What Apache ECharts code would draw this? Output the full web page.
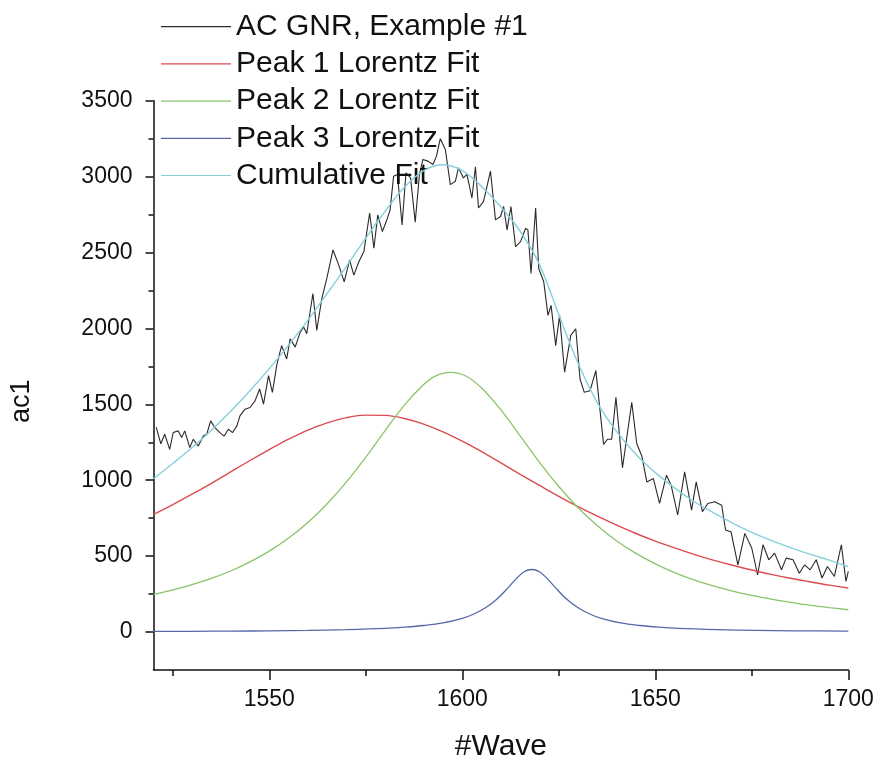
<!DOCTYPE html>
<html>
<head>
<meta charset="utf-8">
<script src="https://cdn.jsdelivr.net/npm/echarts@6/dist/echarts.min.js"></script>
<style>
html,body{margin:0;padding:0;background:#fff;}
#chart{width:877px;height:761px;}
</style>
</head>
<body>
<div id="chart"></div>
<script>
// ---- data ----
var seriesNames = ['AC GNR, Example #1', 'Peak 1 Lorentz Fit', 'Peak 2 Lorentz Fit', 'Peak 3 Lorentz Fit', 'Cumulative Fit'];

var rawWave = [1520.7,1521.9,1522.9,1524.2,1525.1,1526.4,1527.3,1528.1,1529.4,1530.3,1531.6,1532.9,1533.8,1534.8,1535.9,1537.2,1538.3,1539.4,1540.5,1541.6,1542.4,1543.7,1545.0,1546.3,1547.5,1548.5,1549.8,1550.8,1552.0,1553.2,1554.5,1555.4,1556.7,1558.0,1558.9,1559.7,1561.3,1562.3,1563.6,1564.9,1566.5,1568.0,1569.4,1570.8,1571.9,1573.2,1574.5,1576.0,1577.1,1578.1,1579.3,1580.6,1581.3,1582.2,1583.2,1584.4,1585.4,1586.6,1587.8,1588.9,1589.8,1591.1,1592.4,1593.3,1594.3,1595.6,1596.9,1598.2,1599.0,1600.3,1601.2,1602.5,1603.4,1604.2,1605.5,1607.3,1608.6,1609.9,1610.7,1611.6,1612.6,1613.8,1615.1,1616.4,1617.0,1617.8,1619.0,1619.8,1621.1,1622.2,1623.0,1624.2,1625.2,1626.5,1628.1,1629.4,1630.5,1631.6,1633.1,1634.6,1636.6,1637.6,1638.7,1639.8,1641.5,1643.9,1645.2,1646.5,1647.8,1649.5,1651.1,1652.9,1654.1,1655.8,1657.6,1659.4,1660.6,1662.2,1663.6,1665.4,1667.2,1668.2,1669.6,1671.4,1673.2,1675.0,1676.5,1677.9,1679.4,1680.9,1682.7,1683.9,1685.7,1687.3,1688.7,1690.1,1691.7,1693.2,1694.6,1696.4,1698.2,1699.4,1700.0];
var rawAc1 = [1350,1240,1303,1203,1314,1325,1281,1325,1215,1270,1225,1291,1303,1391,1347,1314,1291,1336,1314,1358,1424,1468,1479,1523,1601,1501,1689,1579,1766,1887,1799,1932,1877,1976,2009,1965,2230,1987,2197,2329,2517,2417,2307,2450,2351,2439,2506,2760,2528,2748,2638,2726,2781,3003,3014,2682,3024,2992,2700,3014,3113,3102,3080,3135,3250,3179,2947,2969,3058,2991,3014,2859,3065,2793,2837,3036,2715,2737,2803,2649,2803,2539,2572,2660,2649,2362,2793,2395,2307,2086,2152,1887,2086,1711,1954,1998,1667,1579,1590,1722,1236,1270,1270,1546,1082,1513,1240,1160,989,1011,847,1033,967,771,1055,803,989,793,847,858,836,672,661,443,650,552,377,575,476,520,410,487,476,387,443,410,476,356,432,366,575,334,400];

var fitWave = [1520,1525,1530,1535,1540,1545,1550,1555,1560,1565,1570,1575,1580,1585,1590,1595,1600,1605,1610,1615,1620,1625,1630,1635,1640,1645,1650,1655,1660,1665,1670,1675,1680,1685,1690,1695,1700];
var peak1 = [775,840,908,980,1055,1130,1202,1270,1330,1378,1412,1429,1427,1407,1370,1319,1257,1188,1114,1039,966,894,826,763,704,649,599,554,512,474,440,409,380,354,331,309,290];
var cumulative = [1010,1110,1215,1330,1455,1590,1735,1890,2055,2230,2410,2595,2772,2930,3040,3078,3040,2935,2800,2640,2420,2090,1770,1510,1320,1170,1050,950,860,787,718,657,604,556,513,474,432];

var peak2Wave = [1520,1525,1530,1535,1540,1545,1550,1555,1560,1565,1570,1575,1580,1585,1590,1593,1597,1601,1605,1610,1615,1620,1625,1630,1635,1640,1645,1650,1655,1660,1665,1670,1675,1680,1685,1690,1695,1700];
var peak2 = [247,277,312,353,402,462,533,619,722,845,989,1152,1327,1495,1630,1686,1710,1685,1607,1463,1292,1118,959,819,700,600,518,449,392,344,304,270,241,217,196,177,161,147];

var peak3Wave = [1520,1530,1540,1550,1560,1570,1580,1585,1590,1595,1600,1603,1606,1609,1612,1614,1616,1618,1620,1622,1624,1627,1630,1633,1636,1641,1646,1651,1656,1666,1676,1686,1700];
var peak3 = [4,5,6,8,11,16,24,32,43,60,90,119,160,218,296,352,397,412,397,352,296,218,160,119,90,60,43,32,24,16,11,8,6];

var xLabelValues = [1550, 1600, 1650, 1700];
var xMinorValues = [1525, 1575, 1625, 1675];
var yLabelValues = [0, 500, 1000, 1500, 2000, 2500, 3000, 3500];
var yMinorValues = [250, 750, 1250, 1750, 2250, 2750, 3250];

function zip(xs, ys) {
  var out = [];
  var n = Math.min(xs.length, ys.length);
  for (var i = 0; i < n; i++) out.push([xs[i], ys[i]]);
  return out;
}
function plain(v) { return String(v); }

var FONT = 'Liberation Sans, Arial, sans-serif';
var chart = echarts.init(document.getElementById('chart'), null, {renderer: 'canvas'});

var axisLineStyle = {color: '#111', width: 1.5};

var option = {
  backgroundColor: '#ffffff',
  animation: false,
  grid: {left: 153.5, right: 28.7, top: 100.7, bottom: 91, containLabel: false, outerBoundsMode: 'none'},
  legend: {
    orient: 'vertical',
    left: 161,
    top: 11.7,
    padding: 0,
    icon: 'rect',
    itemWidth: 70,
    itemHeight: 1.2,
    itemGap: 7.2,
    data: seriesNames,
    textStyle: {fontFamily: FONT, fontSize: 30, color: '#111', lineHeight: 30}
  },
  xAxis: [{
    type: 'value', min: 1520, max: 1700,
    name: '#Wave', nameLocation: 'middle', nameGap: 62,
    nameTextStyle: {fontFamily: FONT, fontSize: 30, color: '#111'},
    axisLine: {show: true, onZero: false, lineStyle: axisLineStyle},
    axisTick: {show: true, length: 10, customValues: xLabelValues, lineStyle: axisLineStyle},
    axisLabel: {show: true, customValues: xLabelValues, formatter: plain, margin: 18, fontFamily: FONT, fontSize: 23, color: '#111'},
    splitLine: {show: false}
  }, {
    type: 'value', min: 1520, max: 1700, position: 'bottom',
    axisLine: {show: false, onZero: false},
    axisTick: {show: true, length: 6, customValues: xMinorValues, lineStyle: axisLineStyle},
    axisLabel: {show: false},
    splitLine: {show: false}
  }],
  yAxis: [{
    type: 'value', min: -250, max: 3500,
    name: 'ac1', nameLocation: 'middle', nameGap: 118,
    nameTextStyle: {fontFamily: FONT, fontSize: 27, color: '#111', padding: [0, 32, 0, 0]},
    axisLine: {show: true, onZero: false, lineStyle: axisLineStyle},
    axisTick: {show: true, length: 8, customValues: yLabelValues, lineStyle: axisLineStyle},
    axisLabel: {show: true, customValues: yLabelValues, formatter: plain, margin: 21, fontFamily: FONT, fontSize: 23, color: '#111'},
    splitLine: {show: false}
  }, {
    type: 'value', min: -250, max: 3500, position: 'left',
    axisLine: {show: false, onZero: false},
    axisTick: {show: true, length: 5, customValues: yMinorValues, lineStyle: axisLineStyle},
    axisLabel: {show: false},
    splitLine: {show: false}
  }],
  series: [
    {name: seriesNames[0], type: 'line', data: zip(rawWave, rawAc1), symbol: 'none', showSymbol: false,
     color: '#2a2a2a', lineStyle: {color: '#2a2a2a', width: 1.1}, z: 2},
    {name: seriesNames[1], type: 'line', data: zip(fitWave, peak1), symbol: 'none', showSymbol: false, smooth: 0.35,
     color: '#dd4b52', lineStyle: {color: '#dd4b52', width: 1.4}, z: 3},
    {name: seriesNames[2], type: 'line', data: zip(peak2Wave, peak2), symbol: 'none', showSymbol: false, smooth: 0.35,
     color: '#8ac46a', lineStyle: {color: '#8ac46a', width: 1.3}, z: 3},
    {name: seriesNames[3], type: 'line', data: zip(peak3Wave, peak3), symbol: 'none', showSymbol: false, smooth: 0.35,
     color: '#5568a8', lineStyle: {color: '#5568a8', width: 1.3}, z: 3},
    {name: seriesNames[4], type: 'line', data: zip(fitWave, cumulative), symbol: 'none', showSymbol: false, smooth: 0.35,
     color: '#86d0dc', lineStyle: {color: '#86d0dc', width: 1.4}, z: 4}
  ]
};
chart.setOption(option);
</script>
</body>
</html>
